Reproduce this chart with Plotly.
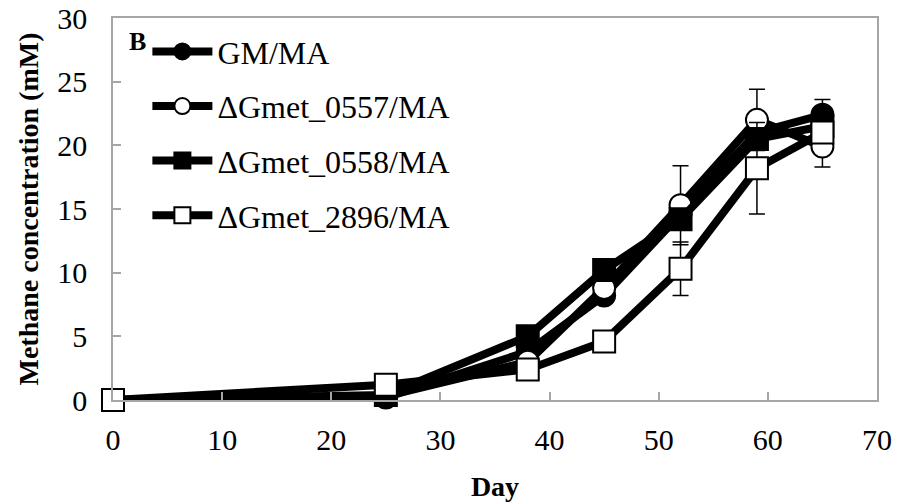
import plotly.graph_objects as go

# Sampling days
days = [0, 25, 38, 45, 52, 59, 65]

# Methane concentration (mM) per strain
gm_ma = [0.0, 0.2, 3.8, 8.2, 14.6, 21.0, 22.4]
gm_ma_err = [0.0, 0.0, 0.0, 0.0, 0.0, 0.0, 1.2]

d0557_ma = [0.0, 0.3, 3.0, 8.8, 15.3, 22.0, 19.9]
d0557_ma_err = [0.0, 0.0, 0.0, 0.0, 3.1, 2.4, 1.6]

d0558_ma = [0.0, 0.4, 5.0, 10.2, 14.2, 20.5, 21.5]
d0558_ma_err = [0.0, 0.0, 0.0, 0.0, 0.0, 0.0, 0.0]

d2896_ma = [0.0, 1.2, 2.4, 4.6, 10.3, 18.2, 21.0]
d2896_ma_err = [0.0, 0.0, 0.0, 0.0, 2.1, 3.6, 0.0]

names = ["GM/MA", "ΔGmet_0557/MA", "ΔGmet_0558/MA", "ΔGmet_2896/MA"]
series = [gm_ma, d0557_ma, d0558_ma, d2896_ma]
errors = [gm_ma_err, d0557_ma_err, d0558_ma_err, d2896_ma_err]
symbols = ["circle", "circle", "square", "square"]
fills = ["black", "white", "black", "white"]

FONT = "Times New Roman, Liberation Serif, serif"
AXIS_GRAY = "#a6a6a6"

fig = go.Figure()
for i, (name, ys, es, sym, fc) in enumerate(zip(names, series, errors, symbols, fills)):
    fig.add_trace(go.Scatter(
        x=days, y=ys, name=name, mode="lines+markers",
        legendgroup=f"g{i}",
        line=dict(color="black", width=8),
        marker=dict(symbol=sym, size=22, color=fc, line=dict(color="black", width=2)),
        error_y=dict(type="data", array=es, visible=True, color="black",
                     thickness=1.5, width=8),
        cliponaxis=False,
    ))

fig.add_annotation(text="<b>B</b>", x=0.018, y=0.982, xref="paper", yref="paper",
                   xanchor="left", yanchor="top", showarrow=False,
                   font=dict(family=FONT, size=26, color="black"))

fig.update_layout(
    width=897, height=503,
    margin=dict(l=113, r=20, t=18, b=103),
    paper_bgcolor="white", plot_bgcolor="white",
    font=dict(family=FONT, color="black"),
    showlegend=True,
    legend=dict(x=0.045, y=0.984, xanchor="left", yanchor="top",
                bgcolor="rgba(0,0,0,0)", font=dict(family=FONT, size=32),
                tracegroupgap=10, itemwidth=60),
    xaxis=dict(range=[0, 70], dtick=10, showgrid=False, zeroline=False,
               showline=True, mirror=True, linecolor=AXIS_GRAY, linewidth=1.5,
               ticks="inside", ticklen=8, tickcolor=AXIS_GRAY, tickwidth=1.5,
               tickfont=dict(family=FONT, size=30), ticklabelstandoff=12,
               automargin=False,
               title=dict(text="<b>Day</b>", font=dict(family=FONT, size=28), standoff=22)),
    yaxis=dict(range=[0, 30], dtick=5, showgrid=False, zeroline=False,
               showline=True, mirror=True, linecolor=AXIS_GRAY, linewidth=1.5,
               ticks="inside", ticklen=8, tickcolor=AXIS_GRAY, tickwidth=1.5,
               tickfont=dict(family=FONT, size=30), ticklabelstandoff=18,
               automargin=False,
               title=dict(text="<b>Methane concentration (mM)</b>",
                          font=dict(family=FONT, size=28), standoff=10)),
)

fig.write_html("out.html")
